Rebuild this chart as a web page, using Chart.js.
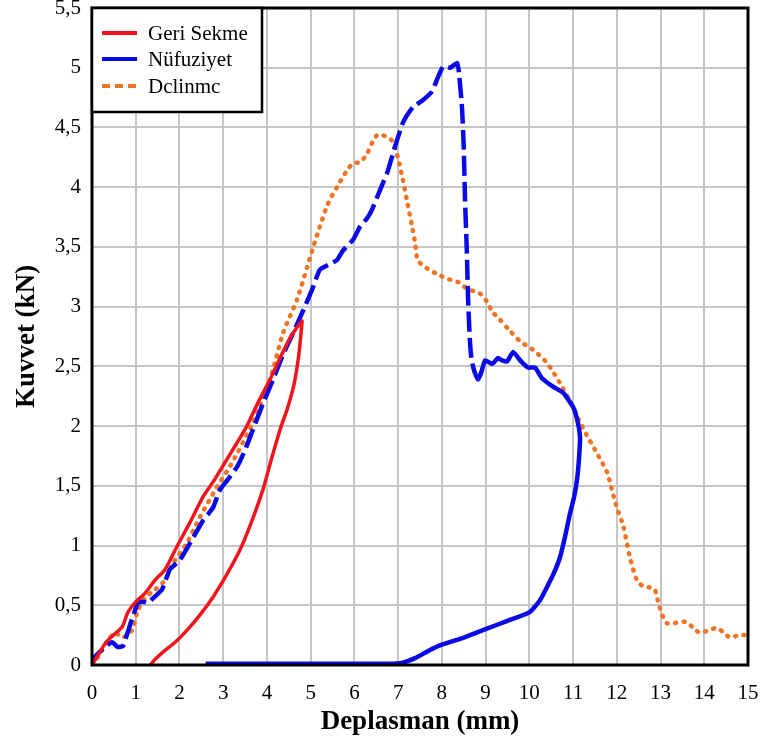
<!DOCTYPE html>
<html>
<head>
<meta charset="utf-8">
<title>Kuvvet - Deplasman</title>
<script src="https://cdn.jsdelivr.net/npm/chart.js@4/dist/chart.umd.min.js"></script>
<style>
	html, body { margin: 0; padding: 0; background: #fff; }
	#chart_div { width: 763px; height: 746px; }
</style>
</head>
<body>
<div id="chart_div"><canvas id="kuvvet_chart" width="763" height="746"></canvas></div>
<script>
// values
var seriesNames = ["Geri Sekme", "Nüfuziyet", "Dclinmc"];

var xTicks = [0, 1, 2, 3, 4, 5, 6, 7, 8, 9, 10, 11, 12, 13, 14, 15];
var yTicks = [0, 0.5, 1, 1.5, 2, 2.5, 3, 3.5, 4, 4.5, 5, 5.5];

var geriX = [0, 0.15, 0.3, 0.46, 0.69, 0.82, 0.98, 1.21, 1.44, 1.67, 1.94, 2.25, 2.54, 2.8, 3.08, 3.3, 3.54, 3.8, 4.07, 4.3, 4.55, 4.8,
	4.8, 4.73, 4.62, 4.47, 4.3, 4.1, 3.91, 3.65, 3.38, 3.07, 2.77, 2.47, 2.17, 1.9, 1.63, 1.45, 1.33];
var geriY = [0, 0.09, 0.18, 0.24, 0.32, 0.44, 0.52, 0.6, 0.71, 0.8, 0.99, 1.2, 1.41, 1.55, 1.72, 1.85, 2.0, 2.2, 2.39, 2.57, 2.75, 2.88,
	2.86, 2.6, 2.35, 2.15, 1.97, 1.72, 1.47, 1.2, 0.96, 0.75, 0.57, 0.42, 0.29, 0.19, 0.11, 0.05, 0];

var nufuzX = [0, 0.07, 0.3, 0.46, 0.59, 0.71, 0.91, 1.05, 1.17, 1.28, 1.4, 1.6, 1.78, 2.01, 2.24, 2.54, 2.77, 2.93, 3.1, 3.32, 3.5, 3.68, 3.9, 4.14, 4.37, 4.6, 4.83, 5.03, 5.21, 5.4, 5.6, 5.74, 5.97, 6.13, 6.29, 6.4, 6.59, 6.75, 6.93, 7.11, 7.34, 7.57, 7.77, 7.91, 8.03, 8.19, 8.35, 8.39, 8.46, 8.5, 8.53, 8.57, 8.6, 8.64, 8.68, 8.75, 8.83,
	8.9, 8.99, 9.15, 9.28, 9.38, 9.49, 9.63, 9.79, 9.97, 10.13, 10.29, 10.54, 10.77, 11.0, 11.11, 11.16, 11.13, 11.09, 11.02, 10.93, 10.82, 10.7, 10.55, 10.4, 10.24, 10.0, 9.5, 9.0, 8.5, 8.0, 7.7, 7.4, 7.1, 6.8, 5.5, 4.0, 2.6];
var nufuzY = [0, 0.07, 0.15, 0.19, 0.15, 0.16, 0.38, 0.52, 0.53, 0.52, 0.56, 0.63, 0.8, 0.88, 1.02, 1.21, 1.32, 1.47, 1.55, 1.66, 1.8, 1.97, 2.18, 2.39, 2.6, 2.78, 2.97, 3.14, 3.31, 3.35, 3.39, 3.47, 3.56, 3.67, 3.74, 3.81, 3.98, 4.12, 4.34, 4.54, 4.67, 4.73, 4.8, 4.92, 5.01, 5.0, 5.04, 4.96, 4.67, 4.34, 3.89, 3.47, 3.06, 2.72, 2.55, 2.45, 2.39,
	2.45, 2.55, 2.52, 2.57, 2.55, 2.54, 2.62, 2.55, 2.49, 2.49, 2.4, 2.33, 2.28, 2.16, 2.03, 1.9, 1.7, 1.55, 1.4, 1.27, 1.08, 0.9, 0.76, 0.65, 0.54, 0.44, 0.37, 0.3, 0.23, 0.17, 0.12, 0.06, 0.02, 0.01, 0.01, 0.01, 0.01];
// index where the dashed loading part of Nüfuziyet ends
var nufuzDashEnd = 56;

var delinX = [0, 0.14, 0.37, 0.53, 0.69, 0.91, 1.05, 1.21, 1.44, 1.67, 1.85, 2.0, 2.17, 2.47, 2.86, 3.1, 3.32, 3.68, 4.07, 4.37, 4.69, 4.92, 5.06, 5.21, 5.37, 5.49, 5.6, 5.83, 5.97, 6.13, 6.29, 6.43, 6.54, 6.75, 6.88, 7.0, 7.11, 7.2, 7.32, 7.39, 7.45, 7.66, 7.96, 8.15, 8.35, 8.5, 8.64, 8.87, 9.03, 9.15, 9.33, 9.55, 9.79, 10.08, 10.4, 10.7, 11.0, 11.16, 11.35, 11.55, 11.78, 11.9, 12.0, 12.15, 12.3, 12.46, 12.6, 12.75, 12.87, 12.95, 13.06, 13.15, 13.29, 13.45, 13.6, 13.75, 13.9, 14.1, 14.29, 14.45, 14.59, 14.8, 15.0];
var delinY = [0, 0.07, 0.21, 0.27, 0.23, 0.29, 0.46, 0.56, 0.63, 0.71, 0.85, 0.93, 1.02, 1.24, 1.49, 1.63, 1.77, 2.03, 2.39, 2.78, 3.06, 3.33, 3.5, 3.67, 3.84, 3.93, 4.0, 4.14, 4.2, 4.21, 4.28, 4.39, 4.44, 4.42, 4.38, 4.24, 4.06, 3.89, 3.67, 3.53, 3.39, 3.32, 3.26, 3.23, 3.21, 3.17, 3.14, 3.11, 3.04, 2.96, 2.89, 2.8, 2.71, 2.64, 2.53, 2.36, 2.16, 2.03, 1.9, 1.77, 1.61, 1.45, 1.32, 1.16, 0.9, 0.71, 0.66, 0.65, 0.63, 0.52, 0.4, 0.35, 0.35, 0.36, 0.36, 0.31, 0.27, 0.29, 0.31, 0.27, 0.23, 0.25, 0.25];

var seriesColors = ["#f2141c", "#0a0ae6", "#ef7424"];
var FONT = "'Liberation Serif', 'Times New Roman', serif";

function toPoints(xs, ys) {
	var pts = [];
	for (var ix = 0; ix < xs.length; ix++) {
		pts.push({x: xs[ix], y: ys[ix]});
	}
	return pts;
}

function commaLabel(v) {
	return String(v).replace(".", ",");
}

// black frame round the plot and the boxed legend in its top-left corner
var frameLegendPlugin = {
	id: "frameLegend",
	afterDatasetsDraw: function(chart) {
		var ctx = chart.ctx;
		var a = chart.chartArea;
		ctx.save();
		ctx.strokeStyle = "#000";
		ctx.lineWidth = 3;
		ctx.strokeRect(a.left, a.top, a.right - a.left, a.bottom - a.top);

		var bx = a.left, by = a.top, bw = 170, bh = 104;
		ctx.fillStyle = "#fff";
		ctx.fillRect(bx, by, bw, bh);
		ctx.lineWidth = 2.5;
		ctx.strokeRect(bx, by, bw, bh);

		ctx.font = "21px " + FONT;
		ctx.textBaseline = "middle";
		ctx.textAlign = "left";
		var rows = [25, 51, 78];
		chart.data.datasets.forEach(function(ds, ix) {
			var yy = by + rows[ix];
			ctx.beginPath();
			ctx.strokeStyle = ds.borderColor;
			ctx.lineWidth = 4;
			ctx.lineCap = "butt";
			ctx.setLineDash(ix == 2 ? [8, 5] : []);
			ctx.moveTo(bx + 10, yy);
			ctx.lineTo(bx + 45, yy);
			ctx.stroke();
			ctx.setLineDash([]);
			ctx.fillStyle = "#000";
			ctx.fillText(ds.label, bx + 56, yy + 1);
		});
		ctx.restore();
	}
};

var ctx = document.getElementById("kuvvet_chart");
var kuvvetChart = new Chart(ctx, {
	type: "scatter",
	data: {
		datasets: [{
			label: seriesNames[0],
			data: toPoints(geriX, geriY),
			showLine: true,
			borderColor: seriesColors[0],
			borderWidth: 3.5,
			pointRadius: 0,
			tension: 0.25
		}, {
			label: seriesNames[1],
			data: toPoints(nufuzX, nufuzY),
			showLine: true,
			borderColor: seriesColors[1],
			borderWidth: 4.5,
			pointRadius: 0,
			tension: 0.15,
			segment: {
				borderDash: function(c) { return c.p1DataIndex <= nufuzDashEnd ? [20, 6] : []; }
			}
		}, {
			label: seriesNames[2],
			data: toPoints(delinX, delinY),
			showLine: true,
			borderColor: seriesColors[2],
			borderWidth: 4.5,
			borderDash: [1, 7.5],
			borderCapStyle: "round",
			pointRadius: 0,
			tension: 0.25
		}]
	},
	options: {
		responsive: false,
		animation: false,
		layout: { padding: { top: 8, right: 15, bottom: 0, left: 0 } },
		plugins: {
			legend: { display: false },
			tooltip: { enabled: false }
		},
		scales: {
			x: {
				type: "linear",
				min: 0,
				max: 15,
				afterBuildTicks: function(s) { s.ticks = xTicks.map(function(v) { return {value: v}; }); },
				afterFit: function(s) { s.height = 81; s.paddingLeft = 0; s.paddingRight = 0; },
				grid: { color: "#c6c6c6", lineWidth: 2, drawTicks: false },
				border: { display: false },
				ticks: { color: "#000", padding: 16, maxRotation: 0, font: { family: FONT, size: 21 } },
				title: { display: true, text: "Deplasman (mm)", color: "#000", padding: { top: 0, bottom: 8 },
					font: { family: FONT, size: 27, weight: "bold" } }
			},
			y: {
				type: "linear",
				min: 0,
				max: 5.5,
				afterBuildTicks: function(s) { s.ticks = yTicks.map(function(v) { return {value: v}; }); },
				afterFit: function(s) { s.width = 92; s.paddingTop = 0; s.paddingBottom = 0; },
				grid: { color: "#c6c6c6", lineWidth: 2, drawTicks: false },
				border: { display: false },
				ticks: { color: "#000", padding: 11, callback: commaLabel, font: { family: FONT, size: 21 } },
				title: { display: true, text: "Kuvvet (kN)", color: "#000", padding: { top: 11, bottom: 0 },
					font: { family: FONT, size: 27, weight: "bold" } }
			}
		}
	},
	plugins: [frameLegendPlugin]
});
</script>
</body>
</html>
